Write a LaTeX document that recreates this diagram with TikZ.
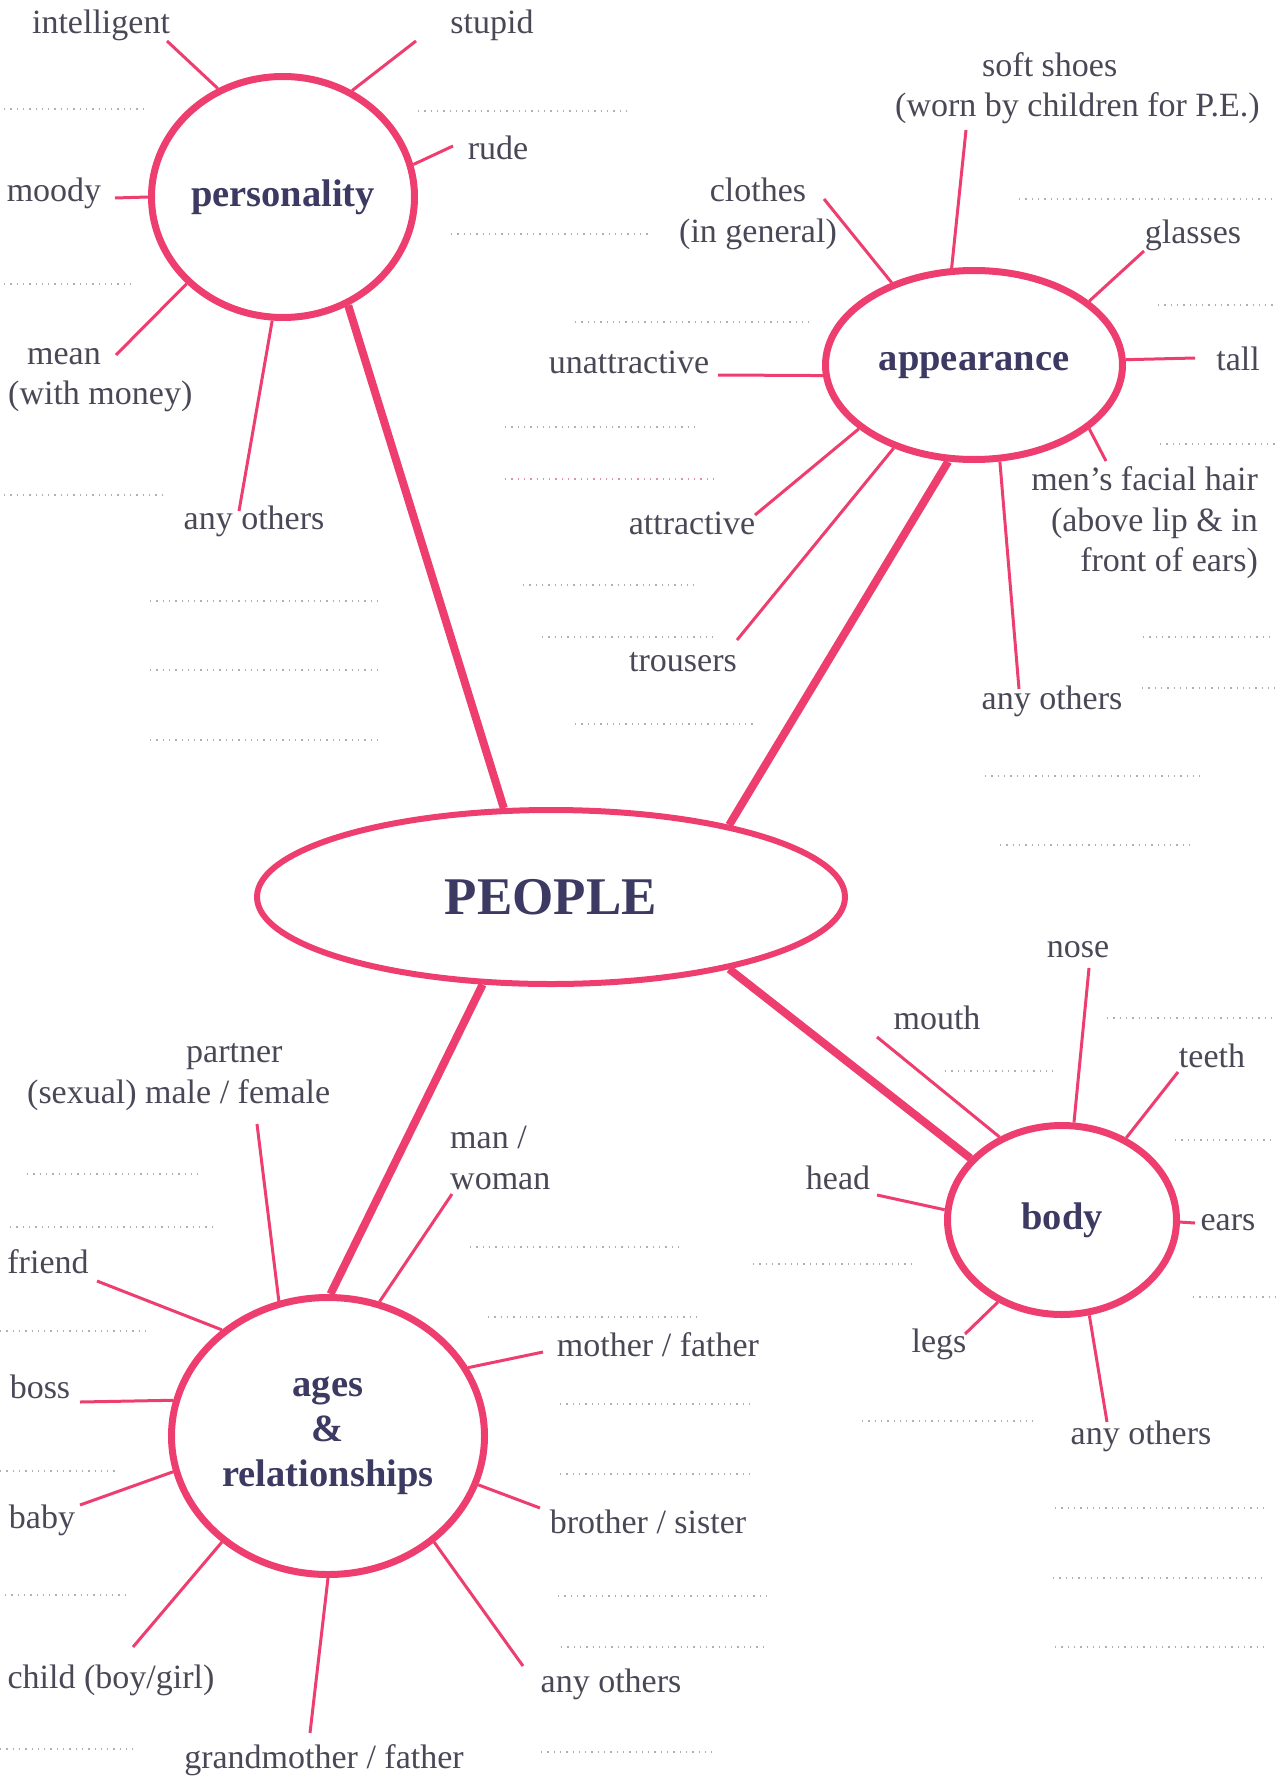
\documentclass[tikz,border=0pt]{standalone}
\usepackage{fontspec}
\setmainfont{Liberation Serif}
\usetikzlibrary{shapes.geometric}
\definecolor{mappink}{RGB}{238,62,112}
\definecolor{labelgrey}{RGB}{74,72,86}
\definecolor{topicblue}{RGB}{60,58,98}
\definecolor{dotgrey}{RGB}{175,175,185}
\definecolor{dotpink}{RGB}{215,150,170}
\tikzstyle{topic} = [ellipse, draw=mappink, line width=7pt, inner sep=0pt, text=topicblue, font=\fontsize{38.5}{45}\selectfont\bfseries, align=center]
\tikzstyle{word} = [inner sep=0pt, text=labelgrey, font=\fontsize{34}{40.5}\selectfont]
\tikzstyle{spoke} = [draw=mappink, line width=3pt]
\tikzstyle{trunk} = [draw=mappink, line width=8pt]
\tikzstyle{fillin} = [draw=dotgrey, line width=1.3pt, dash pattern=on 1.3pt off 5pt]

\begin{document}
\begin{tikzpicture}[x=1pt, y=-1pt]
  \useasboundingbox (0,0) rectangle (1275,1776);

  \node[topic, line width=6pt, minimum width=588pt, minimum height=174pt, font=\fontsize{53}{60}\selectfont\bfseries] (people) at (551,897) {PEOPLE};
  \node[topic, minimum width=263pt, minimum height=241pt] (pers) at (283,197) {personality};
  \node[topic, minimum width=297pt, minimum height=189pt] (appr) at (974,365) {appearance};
  \node[topic, minimum width=229pt, minimum height=189pt] (body) at (1062,1220) {body};
  \node[topic, minimum width=313pt, minimum height=277pt] (ages) at (328,1436) {ages\\\&\\relationships};

  \draw[trunk] (pers.-59.4) -- (people.118.3);
  \draw[trunk] (appr.255.3) -- (people.22.3);
  \draw[trunk] (body.146.4) -- (people.-22.5);
  \draw[trunk] (ages.89.2) -- (people.232.5);

  % personality
  \node[word] (intel) at (101,25) {intelligent};
  \node[word] (stupid) at (492,25) {stupid};
  \node[word] (rude) at (498,148) {rude};
  \node[word] (moody) at (54,193) {moody};
  \node[word, align=left, anchor=west] (mean) at (8,380) {\hspace*{19pt}mean\\(with money)};
  \node[word] (pothers) at (254,521) {any others};
  \coordinate (e-intel) at (167,41);
  \coordinate (e-stupid) at (416,41);
  \coordinate (e-rude) at (453,146);
  \coordinate (e-moody) at (115,198);
  \coordinate (e-mean) at (116,355);
  \coordinate (e-pothers) at (239,511);
  \draw[spoke] (pers.121.6) -- (e-intel);
  \draw[spoke] (pers.57.3) -- (e-stupid);
  \draw[spoke] (pers.14) -- (e-rude);
  \draw[spoke] (pers.180) -- (e-moody);
  \draw[spoke] (pers.222.9) -- (e-mean);
  \draw[spoke] (pers.265.5) -- (e-pothers);

  % appearance
  \node[word, align=left, anchor=west] (shoes) at (895,88) {\hspace*{87pt}soft shoes\\(worn by children for P.E.)};
  \node[word, align=center] (clothes) at (758,214) {clothes\\(in general)};
  \node[word] (glasses) at (1193,235) {glasses};
  \node[word] (tall) at (1238,359) {tall};
  \node[word, align=right, anchor=east] (facial) at (1258,523) {men's facial hair\\(above lip \& in\\front of ears)};
  \node[word] (aothers) at (1052,701) {any others};
  \node[word] (unattr) at (629,362) {unattractive};
  \node[word] (attr) at (692,523) {attractive};
  \node[word] (trousers) at (683,662) {trousers};
  \coordinate (e-shoes) at (966,130);
  \coordinate (e-clothes) at (824,199);
  \coordinate (e-glasses) at (1144,251);
  \coordinate (e-tall) at (1195,358);
  \coordinate (e-facial) at (1106,461);
  \coordinate (e-aothers) at (1019,689);
  \coordinate (e-unattr) at (718,375);
  \coordinate (e-attr) at (755,515);
  \coordinate (e-trousers) at (737,640);
  \draw[spoke] (appr.103.6) -- (e-shoes);
  \draw[spoke] (appr.135.3) -- (e-clothes);
  \draw[spoke] (appr.29.4) -- (e-glasses);
  \draw[spoke] (appr.2.7) -- (e-tall);
  \draw[spoke] (appr.-29.8) -- (e-facial);
  \draw[spoke] (appr.-75.6) -- (e-aothers);
  \draw[spoke] (appr.184) -- (e-unattr);
  \draw[spoke] (appr.209.3) -- (e-attr);
  \draw[spoke] (appr.226) -- (e-trousers);

  % body
  \node[word] (nose) at (1078,950) {nose};
  \node[word] (mouth) at (937,1018) {mouth};
  \node[word] (teeth) at (1212,1056) {teeth};
  \node[word] (head) at (838,1178) {head};
  \node[word] (ears) at (1228,1223) {ears};
  \node[word] (legs) at (939,1344) {legs};
  \node[word] (bothers) at (1141,1436) {any others};
  \coordinate (e-nose) at (1089,968);
  \coordinate (e-mouth) at (877,1037);
  \coordinate (e-teeth) at (1178,1072);
  \coordinate (e-head) at (877,1195);
  \coordinate (e-ears) at (1195,1223);
  \coordinate (e-legs) at (965,1334);
  \coordinate (e-bothers) at (1107,1422);
  \draw[spoke] (body.83.8) -- (e-nose);
  \draw[spoke] (body.127.7) -- (e-mouth);
  \draw[spoke] (body.52.8) -- (e-teeth);
  \draw[spoke] (body.175.6) -- (e-head);
  \draw[spoke] (body.-1) -- (e-ears);
  \draw[spoke] (body.232) -- (e-legs);
  \draw[spoke] (body.-74.4) -- (e-bothers);

  % ages & relationships
  \node[word, align=left, anchor=west] (partner) at (27,1077) {\hspace*{159pt}partner\\(sexual) male / female};
  \node[word, align=left, anchor=west] (man) at (450,1158) {man /\\woman};
  \node[word] (friend) at (48,1262) {friend};
  \node[word] (boss) at (40,1387) {boss};
  \node[word] (baby) at (42,1520) {baby};
  \node[word] (child) at (111,1680) {child (boy/girl)};
  \node[word] (grand) at (324,1760) {grandmother / father};
  \node[word] (mother) at (658,1345) {mother / father};
  \node[word] (brother) at (648,1522) {brother / sister};
  \node[word] (rothers) at (611,1684) {any others};
  \coordinate (e-partner) at (257,1124);
  \coordinate (e-man) at (452,1194);
  \coordinate (e-friend) at (97,1281);
  \coordinate (e-boss) at (80,1402);
  \coordinate (e-baby) at (80,1505);
  \coordinate (e-child) at (133,1647);
  \coordinate (e-grand) at (310,1733);
  \coordinate (e-mother) at (543,1352);
  \coordinate (e-brother) at (540,1508);
  \coordinate (e-rothers) at (523,1666);
  \draw[spoke] (ages.110.3) -- (e-partner);
  \draw[spoke] (ages.69.4) -- (e-man);
  \draw[spoke] (ages.135.8) -- (e-friend);
  \draw[spoke] (ages.167.3) -- (e-boss);
  \draw[spoke] (ages.193) -- (e-baby);
  \draw[spoke] (ages.225) -- (e-child);
  \draw[spoke] (ages.270) -- (e-grand);
  \draw[spoke] (ages.26.2) -- (e-mother);
  \draw[spoke] (ages.-18.6) -- (e-brother);
  \draw[spoke] (ages.-45.3) -- (e-rothers);

  % dotted lines to write on
  \draw[fillin] (4,109) -- (147,109);
  \draw[fillin] (418,111) -- (627,111);
  \draw[fillin] (451,234) -- (650,234);
  \draw[fillin] (4,284) -- (131,284);
  \draw[fillin] (575,322) -- (810,322);
  \draw[fillin] (505,427) -- (700,427);
  \draw[fillin, draw=dotpink] (505,479) -- (718,479);
  \draw[fillin] (4,495) -- (167,495);
  \draw[fillin] (523,585) -- (698,585);
  \draw[fillin] (150,601) -- (380,601);
  \draw[fillin] (542,637) -- (717,637);
  \draw[fillin] (150,670) -- (380,670);
  \draw[fillin] (575,724) -- (753,724);
  \draw[fillin] (150,740) -- (380,740);
  \draw[fillin] (1019,199) -- (1275,199);
  \draw[fillin] (1158,305) -- (1275,305);
  \draw[fillin] (1160,444) -- (1275,444);
  \draw[fillin] (1143,637) -- (1275,637);
  \draw[fillin] (1142,688) -- (1275,688);
  \draw[fillin] (985,776) -- (1200,776);
  \draw[fillin] (1000,845) -- (1192,845);
  \draw[fillin] (1107,1018) -- (1275,1018);
  \draw[fillin] (945,1071) -- (1055,1071);
  \draw[fillin] (1175,1140) -- (1275,1140);
  \draw[fillin] (753,1264) -- (915,1264);
  \draw[fillin] (1193,1297) -- (1275,1297);
  \draw[fillin] (862,1421) -- (1035,1421);
  \draw[fillin] (1055,1508) -- (1265,1508);
  \draw[fillin] (1053,1578) -- (1263,1578);
  \draw[fillin] (1055,1647) -- (1263,1647);
  \draw[fillin] (470,1247) -- (680,1247);
  \draw[fillin] (488,1317) -- (697,1317);
  \draw[fillin] (560,1404) -- (755,1404);
  \draw[fillin] (560,1474) -- (755,1474);
  \draw[fillin] (558,1596) -- (768,1596);
  \draw[fillin] (561,1647) -- (768,1647);
  \draw[fillin] (541,1752) -- (714,1752);
  \draw[fillin] (27,1174) -- (200,1174);
  \draw[fillin] (10,1227) -- (215,1227);
  \draw[fillin] (0,1331) -- (150,1331);
  \draw[fillin] (0,1471) -- (115,1471);
  \draw[fillin] (5,1595) -- (125,1595);
  \draw[fillin] (0,1749) -- (133,1749);
\end{tikzpicture}
\end{document}
